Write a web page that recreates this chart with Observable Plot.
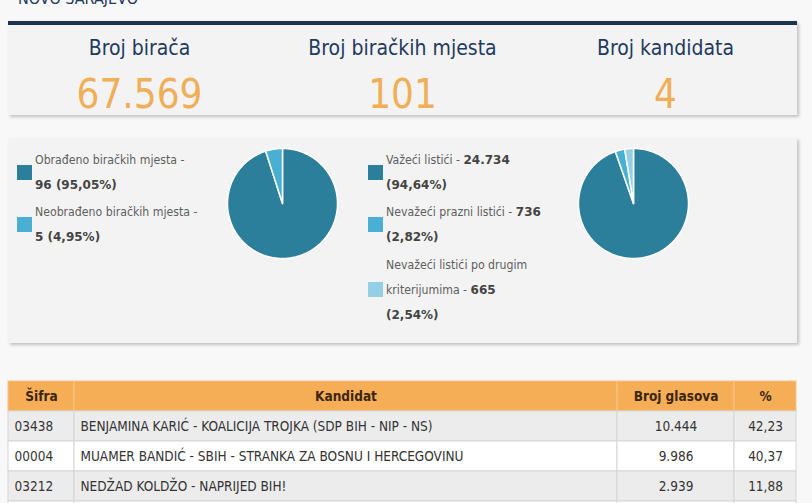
<!DOCTYPE html>
<html><head><meta charset="utf-8">
<script src="https://cdn.jsdelivr.net/npm/d3@7"></script>
<script src="https://cdn.jsdelivr.net/npm/@observablehq/plot@0.6"></script>
<style>
html,body{margin:0;padding:0;width:812px;height:503px;overflow:hidden;background:#f8f8f8;}
body{position:relative;font-family:"Liberation Sans Narrow","DejaVu Sans Condensed",Roboto,sans-serif;}
.abs{position:absolute;white-space:nowrap;}
.card{position:absolute;background:#f3f3f3;box-shadow:2px 2px 3px rgba(0,0,0,0.22);box-sizing:border-box;}
.lbl{color:#1f3a60;font-size:21px;line-height:21px;text-align:center;}
.val{color:#f0ae57;font-size:40px;line-height:40px;text-align:center;}
.lg{font-size:12.2px;line-height:20px;color:#5e5e5e;}
.lg b{color:#444;font-family:"DejaVu Sans",Verdana,sans-serif;font-size:12px;}
.sq{position:absolute;width:15px;height:15px;}
</style></head><body>
<script>
// ---- data ----
const areaName = "NOVO SARAJEVO";
const statLabels = ["Broj birača", "Broj biračkih mjesta", "Broj kandidata"];
const statValues = [67569, 101, 4];
const stationCats = ["Obrađeno biračkih mjesta", "Neobrađeno biračkih mjesta"];
const stationCounts = [96, 5];
const ballotCats = ["Važeći listići", "Nevažeći prazni listići", "Nevažeći listići po drugim kriterijumima"];
const ballotCounts = [24734, 736, 665];
const tableHeaders = ["Šifra", "Kandidat", "Broj glasova", "%"];
const codes = ["03438", "00004", "03212"];
const candidates = ["BENJAMINA KARIĆ - KOALICIJA TROJKA (SDP BIH - NIP - NS)", "MUAMER BANDIĆ - SBIH - STRANKA ZA BOSNU I HERCEGOVINU", "NEDŽAD KOLDŽO - NAPRIJED BIH!"];
const votes = [10444, 9986, 2939];
const votePct = [42.23, 40.37, 11.88];

// ---- style / layout ----
const pieColors = ["#2b7f9b", "#49afd3", "#93d0e6"];
const FONT = '"Liberation Sans Narrow","DejaVu Sans Condensed",Roboto,sans-serif';
const loc = d3.formatLocale({decimal: ",", thousands: ".", grouping: [3], currency: ["", ""]});
const fInt = loc.format(",d");
const fPct = loc.format(".2f");

function el(tag, cls, style, html) {
  const e = document.createElement(tag);
  if (cls) e.className = cls;
  Object.assign(e.style, style || {});
  if (html != null) e.innerHTML = html;
  document.body.appendChild(e);
  return e;
}

// header text
el("div", "abs", {left: "18px", top: "-9px", fontSize: "16px", lineHeight: "16px", color: "#1e3a5e"}, areaName);
// top card
el("div", "card", {left: "8px", top: "21px", width: "789px", height: "94px", borderTop: "4px solid #1b3253"});
const colW = 789 / 3;
statLabels.forEach((s, i) => {
  el("div", "abs lbl", {left: (8 + i * colW) + "px", width: colW + "px", top: "38px"}, s);
  el("div", "abs val", {left: (8 + i * colW) + "px", width: colW + "px", top: "74px"}, fInt(statValues[i]));
});
// second card
el("div", "card", {left: "8px", top: "138px", width: "789px", height: "205px"});

// legends
function legend(x, lines, squares) {
  lines.forEach(([cy, html]) => el("div", "abs lg", {left: x + "px", top: (cy - 10) + "px"}, html));
  squares.forEach(([sy, c]) => el("div", "sq", {left: (x - 18) + "px", top: sy + "px", background: c}));
}
const sTot = d3.sum(stationCounts);
legend(35, [
  [160, stationCats[0] + " -"],
  [185, `<b>${fInt(stationCounts[0])} (${fPct(stationCounts[0] / sTot * 100)}%)</b>`],
  [212, stationCats[1] + " -"],
  [237, `<b>${fInt(stationCounts[1])} (${fPct(stationCounts[1] / sTot * 100)}%)</b>`]
], [[165, pieColors[0]], [217, pieColors[1]]]);
const bTot = d3.sum(ballotCounts);
const b3 = ballotCats[2].split(" ");
legend(386, [
  [160, `${ballotCats[0]} - <b>${fInt(ballotCounts[0])}</b>`],
  [185, `<b>(${fPct(ballotCounts[0] / bTot * 100)}%)</b>`],
  [212, `${ballotCats[1]} - <b>${fInt(ballotCounts[1])}</b>`],
  [237, `<b>(${fPct(ballotCounts[1] / bTot * 100)}%)</b>`],
  [265, b3.slice(0, -1).join(" ")],
  [290, `${b3[b3.length - 1]} - <b>${fInt(ballotCounts[2])}</b>`],
  [315, `<b>(${fPct(ballotCounts[2] / bTot * 100)}%)</b>`]
], [[165, pieColors[0]], [217, pieColors[1]], [282, pieColors[2]]]);

// pies drawn with Plot.line (filled) on x/y scales
function pieData(cats, counts) {
  const arcs = d3.pie().sort(null)(counts);
  const pts = [];
  arcs.forEach((a, i) => {
    const n = Math.max(2, Math.ceil((a.endAngle - a.startAngle) / 0.02));
    pts.push({cat: cats[i], x: 0, y: 0});
    for (let k = 0; k <= n; k++) {
      const t = a.startAngle + (a.endAngle - a.startAngle) * k / n;
      pts.push({cat: cats[i], x: Math.sin(t), y: Math.cos(t)});
    }
    pts.push({cat: cats[i], x: 0, y: 0});
  });
  return pts;
}
function pie(cats, counts, cx, cy) {
  const R = 55, M = 4;
  const p = Plot.plot({
    width: 2 * (R + M), height: 2 * (R + M), margin: M,
    style: {background: "transparent", overflow: "visible"},
    x: {domain: [-1, 1], axis: null},
    y: {domain: [-1, 1], axis: null},
    color: {domain: cats, range: pieColors.slice(0, cats.length)},
    marks: [
      Plot.line(pieData(cats, counts), {x: "x", y: "y", z: "cat", fill: "cat", stroke: "#fff", strokeWidth: 1.5, strokeLinejoin: "round"})
    ]
  });
  p.style.position = "absolute";
  p.style.left = (cx - R - M) + "px";
  p.style.top = (cy - R - M) + "px";
  document.body.appendChild(p);
}
pie(stationCats, stationCounts, 282, 203);
pie(ballotCats, ballotCounts, 633, 203);

// table drawn with Plot
const colEdges = [0, 66, 609, 726, 788];
const rowKeys = ["h", "r0", "r1", "r2", "r3"];
const rows = [tableHeaders, ...codes.map((c, i) => [c, candidates[i], fInt(votes[i]), fPct(votePct[i])])];
const cells = [];
rowKeys.forEach((rk, r) => {
  for (let c = 0; c < 4; c++) {
    cells.push({
      row: rk, col: c, x1: colEdges[c], x2: colEdges[c + 1],
      kind: r === 0 ? "header" : (r % 2 ? "odd" : "even"),
      text: rows[r] ? rows[r][c] : "",
      tx: (r > 0 && c < 2) ? colEdges[c] + 6 : (colEdges[c] + colEdges[c + 1]) / 2,
      left: r > 0 && c < 2,
      header: r === 0
    });
  }
});
const table = Plot.plot({
  width: 789, height: 150, margin: 0,
  style: {background: "transparent", fontFamily: FONT, overflow: "visible"},
  x: {domain: [0, 789], range: [0, 789], axis: null},
  y: {domain: rowKeys, axis: null, padding: 0},
  color: {domain: ["header", "odd", "even"], range: ["#f6ae56", "#ececec", "#ffffff"]},
  marks: [
    Plot.barX(cells, {x1: "x1", x2: "x2", y: "row", fill: "kind", inset: 0, stroke: d => d.header ? "#f7c48a" : "#d6d6d6", strokeWidth: 1}),
    Plot.text(cells.filter(d => d.header), {x: "tx", y: "row", text: "text", fontSize: 13.5, fontWeight: "bold", fill: "#3b2610"}),
    Plot.text(cells.filter(d => !d.header && d.left), {x: "tx", y: "row", text: "text", fontSize: 13.5, textAnchor: "start", fill: "#333"}),
    Plot.text(cells.filter(d => !d.header && !d.left), {x: "tx", y: "row", text: "text", fontSize: 13.5, fill: "#333"})
  ]
});
table.style.position = "absolute";
table.style.left = "8px";
table.style.top = "381px";
document.body.appendChild(table);
</script>
</body></html>
